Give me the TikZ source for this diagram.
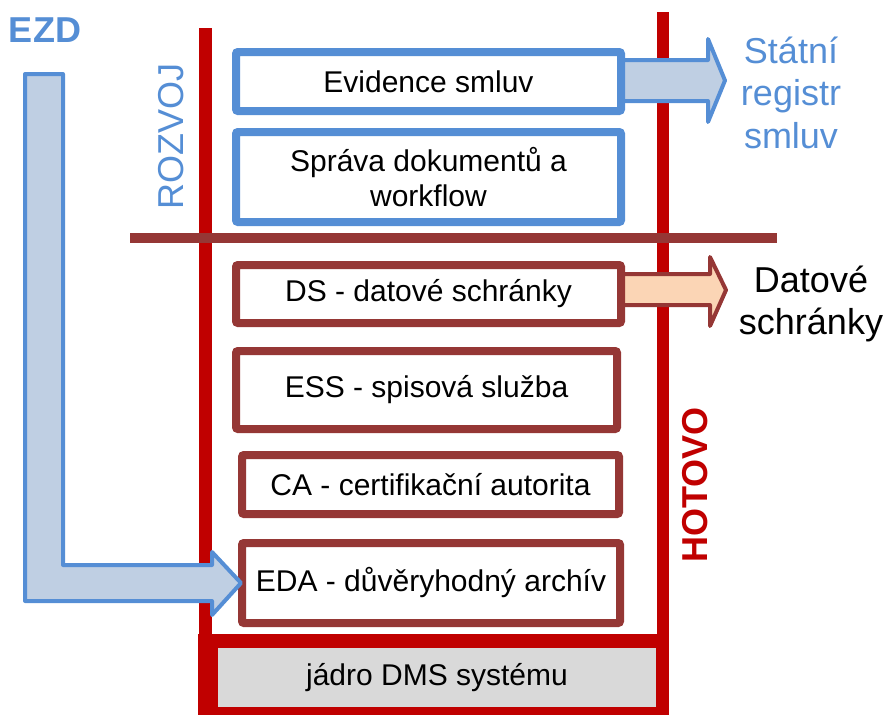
\documentclass[tikz,border=0pt]{standalone}
\usepackage{fontspec}
\setmainfont{Liberation Sans}
\definecolor{myblue}{HTML}{558ED5}
\definecolor{myred}{HTML}{C00000}
\definecolor{mybrown}{HTML}{953735}
\definecolor{arrowblue}{HTML}{BFCFE3}
\definecolor{peach}{HTML}{FBD5B5}
\definecolor{coregray}{HTML}{D9D9D9}
\begin{document}
\begin{tikzpicture}[x=1pt,y=-1pt,
  bluebox/.style={draw=myblue,line width=8pt,fill=white,rounded corners=2pt,
    font=\fontsize{30}{35}\selectfont,align=center,inner sep=0pt},
  brownbox/.style={bluebox,draw=mybrown},
  blockarrow/.style={line width=4pt,line join=round},
  bigtext/.style={font=\fontsize{36}{42.5}\selectfont,align=center,inner sep=0pt}]
\useasboundingbox (0,0) rectangle (887,715);
% red frame
\draw[myred,line width=13pt] (205,28) -- (205,715);
\draw[myred,line width=12pt] (663,12) -- (663,715);
\fill[myred] (198,634) rectangle (669,715);
\node[fill=coregray,minimum width=438pt,minimum height=59pt,inner sep=0pt,
  font=\fontsize{30}{35}\selectfont] (core) at (437,677.5) {jádro DMS systému};
% separator
\draw[mybrown,line width=10pt] (130,238) -- (777,238);
% right block arrows
\draw[blockarrow,draw=myblue,fill=arrowblue] (600,60) -- (708,60) -- (708,39) -- (725,80.5)
  -- (708,122) -- (708,101) -- (600,101) -- cycle;
\draw[blockarrow,draw=mybrown,fill=peach] (600,274) -- (710,274) -- (710,257) -- (726,290)
  -- (710,326) -- (710,305) -- (600,305) -- cycle;
% boxes
\node[bluebox,minimum width=385pt,minimum height=59pt] (ev) at (428.5,81.5) {Evidence smluv};
\node[bluebox,minimum width=385pt,minimum height=90pt] (sd) at (428.5,177) {Správa dokumentů a\\workflow};
\node[brownbox,minimum width=385pt,minimum height=58pt] (ds) at (428.5,294) {DS - datové schránky};
\node[brownbox,minimum width=381pt,minimum height=78pt] (ess) at (426.5,390) {ESS - spisová služba};
\node[brownbox,minimum width=377pt,minimum height=59pt] (ca) at (430.5,484.5) {CA - certifikační autorita};
\node[brownbox,minimum width=378pt,minimum height=80pt] (eda) at (431,583) {EDA - důvěryhodný archív};
% L arrow
\draw[blockarrow,draw=myblue,fill=arrowblue] (25,74) -- (63,74) -- (63,565) -- (212,565)
  -- (212,552) -- (241,583) -- (212,615) -- (212,601) -- (25,601) -- cycle;
% labels
\node[font=\fontsize{36}{36}\selectfont\bfseries,text=myblue,anchor=base,inner sep=0pt] (ezd) at (45,42) {EZD};
\node[rotate=90,font=\fontsize{36}{36}\selectfont,text=myblue,inner sep=0pt] (rozvoj) at (171,136.5) {ROZVOJ};
\node[rotate=90,font=\fontsize{36}{36}\selectfont\bfseries,text=myred,inner sep=0pt] (hotovo) at (695,485) {HOTOVO};
\node[bigtext,text=myblue] (reg) at (791,92.5) {Státní\\registr\\smluv};
\node[bigtext,text=black] (dsl) at (811,304) {Datové\\schránky};
\end{tikzpicture}
\end{document}
